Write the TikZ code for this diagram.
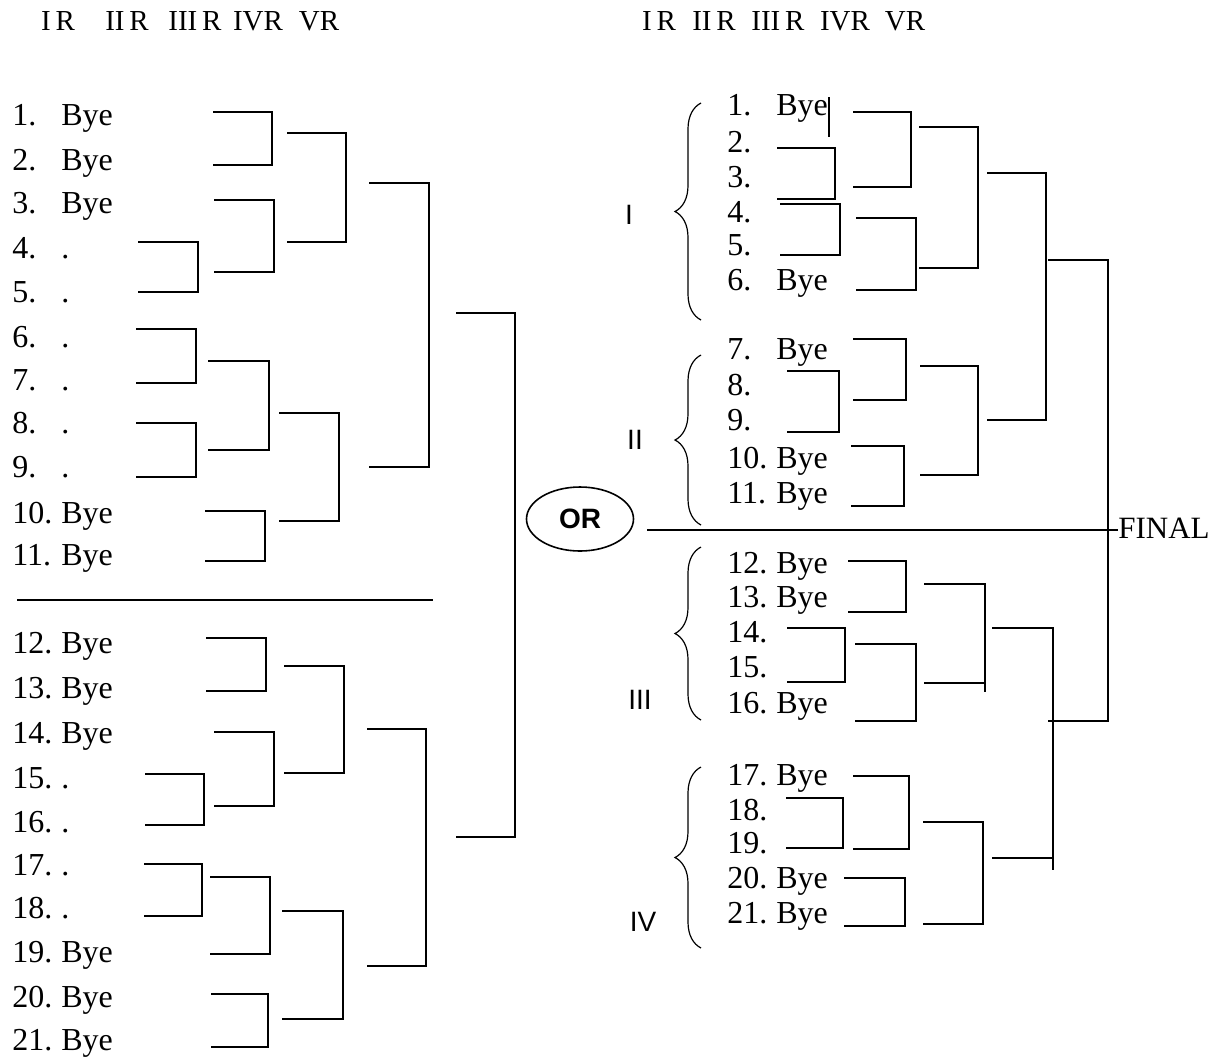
\documentclass[tikz,border=0pt]{standalone}
\usepackage{fontspec}
\setmainfont{Liberation Serif}
\newfontfamily\labelfont{Liberation Sans}
\usetikzlibrary{shapes.geometric, decorations.pathreplacing}

\newcommand{\seedno}[1]{\makebox[24.5pt][l]{#1}}
\newcommand{\matchbox}[4]{\draw[bracket] (#1,#3) -| (#2,#4) -- (#1,#4);}

\begin{document}
\begin{tikzpicture}[
        x={(0.5pt,0)}, y={(0,-0.5pt)},
        entry/.style={
            anchor=base west,
            inner sep=0pt,
            font=\fontsize{16}{19}\selectfont
        },
        round/.style={
            anchor=base,
            inner sep=0pt,
            font=\fontsize{14.5}{17}\selectfont
        },
        group/.style={
            inner sep=0pt,
            font=\labelfont\fontsize{14}{16}\selectfont
        },
        orbox/.style={
            ellipse,
            draw,
            line width=0.8pt,
            minimum width=53.5pt,
            minimum height=32pt,
            inner sep=0pt,
            font=\labelfont\bfseries\fontsize{14}{17}\selectfont
        },
        bracket/.style={
            line width=1pt
        },
        curly/.style={
            decorate,
            decoration={brace, amplitude=13pt},
            line width=0.6pt
        }
    ]
        \useasboundingbox (0,0) rectangle (1226,1057);

        % rounds
        \node[round] (hl1) at (58,30) {I\,R};
        \node[round] (hl2) at (127,30) {II\,R};
        \node[round] (hl3) at (195,30) {III\,R};
        \node[round] (hl4) at (258,30) {IVR};
        \node[round] (hl5) at (319,30) {VR};
        \node[round] (hr1) at (659,30) {I\,R};
        \node[round] (hr2) at (714,30) {II\,R};
        \node[round] (hr3) at (778,30) {III\,R};
        \node[round] (hr4) at (845,30) {IVR};
        \node[round] (hr5) at (905,30) {VR};

        % left draw
        \node[entry] (l1) at (12,125) {\seedno{1.}Bye};
        \node[entry] (l2) at (12,170) {\seedno{2.}Bye};
        \node[entry] (l3) at (12,213) {\seedno{3.}Bye};
        \node[entry] (l4) at (12,258) {\seedno{4.}.};
        \node[entry] (l5) at (12,302) {\seedno{5.}.};
        \node[entry] (l6) at (12,347) {\seedno{6.}.};
        \node[entry] (l7) at (12,390) {\seedno{7.}.};
        \node[entry] (l8) at (12,433) {\seedno{8.}.};
        \node[entry] (l9) at (12,477) {\seedno{9.}.};
        \node[entry] (l10) at (12,523) {\seedno{10.}Bye};
        \node[entry] (l11) at (12,565) {\seedno{11.}Bye};
        \node[entry] (l12) at (12,653) {\seedno{12.}Bye};
        \node[entry] (l13) at (12,698) {\seedno{13.}Bye};
        \node[entry] (l14) at (12,743) {\seedno{14.}Bye};
        \node[entry] (l15) at (12,788) {\seedno{15.}.};
        \node[entry] (l16) at (12,832) {\seedno{16.}.};
        \node[entry] (l17) at (12,875) {\seedno{17.}.};
        \node[entry] (l18) at (12,918) {\seedno{18.}.};
        \node[entry] (l19) at (12,962) {\seedno{19.}Bye};
        \node[entry] (l20) at (12,1007) {\seedno{20.}Bye};
        \node[entry] (l21) at (12,1050) {\seedno{21.}Bye};

        \draw[bracket] (17,600) -- (433,600);

        \matchbox{213}{272}{112}{165}
        \matchbox{214}{274}{200}{272}
        \matchbox{138}{198}{242}{292}
        \matchbox{287}{346}{133}{242}
        \matchbox{136}{196}{329}{383}
        \matchbox{136}{196}{423}{477}
        \matchbox{208}{269}{361}{450}
        \matchbox{205}{265}{511}{561}
        \matchbox{279}{339}{413}{521}
        \matchbox{369}{429}{183}{467}
        \matchbox{206}{266}{638}{691}
        \matchbox{214}{274}{732}{806}
        \matchbox{145}{204}{774}{825}
        \matchbox{284}{344}{666}{773}
        \matchbox{144}{202}{864}{916}
        \matchbox{210}{270}{877}{954}
        \matchbox{211}{268}{994}{1047}
        \matchbox{282}{343}{911}{1019}
        \matchbox{367}{426}{729}{966}
        \matchbox{456}{515}{313}{837}

        \node[orbox] (orbox) at (580,519) {OR};

        % right draw
        \node[group] (gI) at (629,215) {I};
        \node[group] (gII) at (635,440) {II};
        \node[group] (gIII) at (640,700) {III};
        \node[group] (gIV) at (643,922) {IV};

        \draw[curly] (701,320) -- (701,103);
        \draw[curly] (701,525) -- (701,355);
        \draw[curly] (701,720) -- (701,547);
        \draw[curly] (701,948) -- (701,767);

        \node[entry] (r1) at (727,115) {\seedno{1.}Bye};
        \node[entry] (r2) at (727,152) {2.};
        \node[entry] (r3) at (727,187) {3.};
        \node[entry] (r4) at (727,222) {4.};
        \node[entry] (r5) at (727,255) {5.};
        \node[entry] (r6) at (727,290) {\seedno{6.}Bye};
        \node[entry] (r7) at (727,359) {\seedno{7.}Bye};
        \node[entry] (r8) at (727,395) {8.};
        \node[entry] (r9) at (727,430) {9.};
        \node[entry] (r10) at (727,468) {\seedno{10.}Bye};
        \node[entry] (r11) at (727,503) {\seedno{11.}Bye};
        \node[entry] (r12) at (727,573) {\seedno{12.}Bye};
        \node[entry] (r13) at (727,607) {\seedno{13.}Bye};
        \node[entry] (r14) at (727,642) {14.};
        \node[entry] (r15) at (727,677) {15.};
        \node[entry] (r16) at (727,713) {\seedno{16.}Bye};
        \node[entry] (r17) at (727,785) {\seedno{17.}Bye};
        \node[entry] (r18) at (727,820) {18.};
        \node[entry] (r19) at (727,853) {19.};
        \node[entry] (r20) at (727,888) {\seedno{20.}Bye};
        \node[entry] (r21) at (727,923) {\seedno{21.}Bye};

        \draw[line width=0.6pt] (829,97) -- (829,137);

        \matchbox{853}{911}{112}{187}
        \matchbox{777}{835}{148}{199}
        \matchbox{780}{840}{204}{255}
        \matchbox{856}{916}{218}{290}
        \matchbox{919}{978}{127}{268}
        \matchbox{987}{1046}{173}{420}
        \matchbox{853}{906}{339}{400}
        \matchbox{787}{839}{371}{432}
        \matchbox{851}{904}{446}{506}
        \matchbox{920}{978}{366}{475}
        \matchbox{848}{906}{561}{612}
        \matchbox{787}{845}{628}{682}
        \matchbox{855}{916}{644}{721}
        \matchbox{924}{985}{584}{683}
        \matchbox{992}{1053}{628}{858}
        \matchbox{853}{909}{776}{849}
        \matchbox{786}{843}{798}{848}
        \matchbox{844}{905}{878}{926}
        \matchbox{923}{983}{822}{924}
        \matchbox{1048}{1108}{260}{721}
        \draw[bracket] (985,683) -- (985,692);
        \draw[bracket] (1053,858) -- (1053,870);

        \node[entry, anchor=west, font=\fontsize{15.5}{18}\selectfont] (final) at (1118,528) {FINAL};
        \coordinate (split) at (647,530);
        \draw[bracket] (split) -- (split -| final.west);

    \end{tikzpicture}
\end{document}
